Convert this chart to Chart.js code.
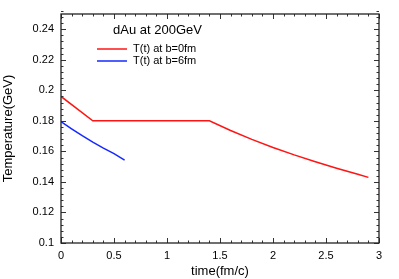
<!DOCTYPE html>
<html>
<head>
    <meta charset="UTF-8">
    <script src="https://cdn.jsdelivr.net/npm/chart.js@4.4.1/dist/chart.umd.min.js"></script>
    <style>
        html, body { margin: 0; padding: 0; background: #fff; }
        #wrap { width: 399px; height: 279px; }
    </style>
</head>
<body>
<div id="wrap"><canvas id="tempChart" width="399" height="279"></canvas></div>

<script>
    // red curve, b=0fm
    const timeB0 = [0, 0.3, 1.4, 1.6, 1.8, 2.0, 2.2, 2.4, 2.6, 2.8, 2.9];
    const tempB0 = [0.196, 0.180, 0.180, 0.1737, 0.1679, 0.1626, 0.1577, 0.1532, 0.1490, 0.1450, 0.1430];
    // blue curve, b=6fm
    const timeB6 = [0, 0.1, 0.2, 0.3, 0.4, 0.5, 0.6];
    const tempB6 = [0.1795, 0.1748, 0.1703, 0.1661, 0.1622, 0.1585, 0.1543];

    const seriesLabels = ['T(t) at b=0fm', 'T(t) at b=6fm'];
    const seriesColors = ['rgb(255, 20, 20)', 'rgb(20, 40, 255)'];
    const legendTitle = 'dAu at 200GeV';

    const xTicks = [0, 0.5, 1, 1.5, 2, 2.5, 3];
    const yTicks = [0.1, 0.12, 0.14, 0.16, 0.18, 0.2, 0.22, 0.24];
    const xMinorStep = 0.1;
    const yMinorStep = 0.004;

    const fontName = '"Liberation Sans", Arial, Helvetica, sans-serif';

    function toPoints(xs, ys) {
        var pts = [];
        for (var i = 0; i < xs.length; i++) {
            pts.push({x: xs[i], y: ys[i]});
        }
        return pts;
    }

    // frame with inward ticks on all four sides + the inset legend
    const frameTicks = {
        id: 'frameTicks',
        afterDatasetsDraw(chart) {
            const ctx = chart.ctx;
            const a = chart.chartArea;
            const xs = chart.scales.x, ys = chart.scales.y;
            ctx.save();
            ctx.strokeStyle = '#333';
            ctx.lineWidth = 1;
            ctx.beginPath();

            var i, v, p, len;
            var nx = Math.round((xs.max - xs.min) / xMinorStep);
            for (i = 0; i <= nx; i++) {
                v = xs.min + i * xMinorStep;
                p = Math.round(xs.getPixelForValue(v)) + 0.5;
                len = (i % 5 === 0) ? 5 : 2.5;
                ctx.moveTo(p, a.bottom); ctx.lineTo(p, a.bottom - len);
                ctx.moveTo(p, a.top); ctx.lineTo(p, a.top + len);
            }
            var ny = Math.round((ys.max - ys.min) / yMinorStep);
            for (i = 0; i <= ny; i++) {
                v = ys.min + i * yMinorStep;
                p = Math.round(ys.getPixelForValue(v)) + 0.5;
                len = (i % 5 === 0) ? 5 : 2.5;
                ctx.moveTo(a.left, p); ctx.lineTo(a.left + len, p);
                ctx.moveTo(a.right, p); ctx.lineTo(a.right - len, p);
            }
            ctx.stroke();

            ctx.lineWidth = 1.3;
            ctx.strokeStyle = '#222';
            ctx.strokeRect(a.left, a.top, a.right - a.left, a.bottom - a.top);

            // legend
            ctx.fillStyle = '#000';
            ctx.textBaseline = 'middle';
            ctx.textAlign = 'left';
            ctx.font = '13px ' + fontName;
            ctx.fillText(legendTitle, 113, 30);
            ctx.font = '11px ' + fontName;
            var rows = [49, 61];
            for (i = 0; i < seriesLabels.length; i++) {
                ctx.strokeStyle = seriesColors[i];
                ctx.lineWidth = 1.5;
                ctx.beginPath();
                ctx.moveTo(97, rows[i]);
                ctx.lineTo(127, rows[i]);
                ctx.stroke();
                ctx.fillText(seriesLabels[i], 133, rows[i]);
            }
            ctx.restore();
        }
    };

    new Chart(document.getElementById('tempChart'), {
        type: 'line',
        data: {
            datasets: [
                {label: seriesLabels[0], data: toPoints(timeB0, tempB0), borderColor: seriesColors[0],
                 borderWidth: 1.5, pointRadius: 0, tension: 0},
                {label: seriesLabels[1], data: toPoints(timeB6, tempB6), borderColor: seriesColors[1],
                 borderWidth: 1.5, pointRadius: 0, tension: 0}
            ]
        },
        options: {
            responsive: false,
            animation: false,
            devicePixelRatio: 1,
            layout: {padding: {left: 0, top: 14, right: 20, bottom: 0}},
            plugins: {legend: {display: false}, tooltip: {enabled: false}},
            scales: {
                x: {
                    type: 'linear',
                    min: 0,
                    max: 3,
                    grid: {display: false, drawTicks: false},
                    border: {display: false},
                    afterBuildTicks: function(scale) {
                        scale.ticks = xTicks.map(function(v) { return {value: v}; });
                    },
                    afterFit: function(scale) { scale.height = 36; },
                    ticks: {
                        color: '#000',
                        padding: 6,
                        maxRotation: 0,
                        autoSkip: false,
                        font: {family: fontName, size: 11},
                        callback: function(v) { return String(Math.round(v * 10) / 10); }
                    },
                    title: {
                        display: true,
                        text: 'time(fm/c)',
                        color: '#000',
                        padding: {top: 0, bottom: 0},
                        font: {family: fontName, size: 13}
                    }
                },
                y: {
                    type: 'linear',
                    min: 0.1,
                    max: 0.25,
                    grid: {display: false, drawTicks: false},
                    border: {display: false},
                    afterBuildTicks: function(scale) {
                        scale.ticks = yTicks.map(function(v) { return {value: v}; });
                    },
                    afterFit: function(scale) { scale.width = 61; },
                    ticks: {
                        color: '#000',
                        padding: 7,
                        autoSkip: false,
                        font: {family: fontName, size: 11},
                        callback: function(v) { return String(Math.round(v * 100) / 100); }
                    },
                    title: {
                        display: true,
                        text: 'Temperature(GeV)',
                        color: '#000',
                        padding: {top: 1, bottom: 0},
                        font: {family: fontName, size: 13}
                    }
                }
            }
        },
        plugins: [frameTicks]
    });
</script>
</body>
</html>
